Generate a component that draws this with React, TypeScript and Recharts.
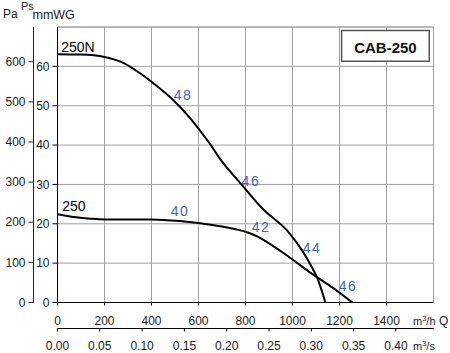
import {
  LineChart,
  Line,
  XAxis,
  YAxis,
  CartesianGrid,
  ReferenceLine,
  ReferenceArea,
  ReferenceDot,
} from "recharts";

// fan curves, Q in m3/h, Ps in mmWG
const curve250N = [
  { q: 0, ps: 63.1 },
  { q: 100, ps: 63.0 },
  { q: 200, ps: 62.4 },
  { q: 280, ps: 60.9 },
  { q: 350, ps: 58.3 },
  { q: 410, ps: 55.6 },
  { q: 500, ps: 51.0 },
  { q: 600, ps: 44.2 },
  { q: 650, ps: 40.2 },
  { q: 690, ps: 36.6 },
  { q: 780, ps: 30.2 },
  { q: 870, ps: 24.0 },
  { q: 990, ps: 17.4 },
  { q: 1040, ps: 13.3 },
  { q: 1075, ps: 9.8 },
  { q: 1105, ps: 6.3 },
  { q: 1140, ps: 0 },
];

const curve250 = [
  { q: 0, ps: 22.4 },
  { q: 60, ps: 21.8 },
  { q: 140, ps: 21.3 },
  { q: 200, ps: 21.1 },
  { q: 400, ps: 21.1 },
  { q: 520, ps: 20.7 },
  { q: 600, ps: 20.2 },
  { q: 700, ps: 19.3 },
  { q: 760, ps: 18.6 },
  { q: 810, ps: 17.8 },
  { q: 850, ps: 16.8 },
  { q: 890, ps: 15.4 },
  { q: 975, ps: 12.0 },
  { q: 1080, ps: 7.4 },
  { q: 1175, ps: 3.6 },
  { q: 1255, ps: 0 },
];

// noise levels written along the curves
const noiseLabels = [
  { text: "48", q: 534, ps: 52.6 },
  { text: "46", q: 823, ps: 30.9 },
  { text: "40", q: 521, ps: 23.2 },
  { text: "42", q: 866, ps: 19.1 },
  { text: "44", q: 1083, ps: 13.8 },
  { text: "46", q: 1236, ps: 4.3 },
];

const curveNames = [
  { text: "250N", q: 87, ps: 65.0 },
  { text: "250", q: 70, ps: 24.6 },
];

const qTicks = [0, 200, 400, 600, 800, 1000, 1200, 1400];
const qsTicks = [0, 0.05, 0.1, 0.15, 0.2, 0.25, 0.3, 0.35, 0.4]; // m3/s
const mmTicks = [0, 10, 20, 30, 40, 50, 60];
const paTicks = [0, 100, 200, 300, 400, 500, 600];

const Q_MAX = 1600;
const MM_MAX = 70;
const MM_TO_PA = 9.80665;
const H_PER_S = 3600;

const BLUE = "#3d62c6";
const GRID = "#a0a0a0";
const FONT = "'Liberation Sans', Arial, sans-serif";
const tickStyle = { fill: "#1a1a1a", fontSize: 12 };

export default function App() {
  return (
    <div style={{ position: "absolute", left: 0, top: 0 }}>
      <LineChart
        width={450}
        height={353}
        data={curve250N}
        margin={{ top: 27, right: 16.5, left: 0, bottom: 0 }}
        style={{ fontFamily: FONT }}
      >
        <CartesianGrid xAxisId="h" yAxisId="mm" stroke={GRID} strokeWidth={1} />
        <XAxis
          xAxisId="h"
          dataKey="q"
          type="number"
          domain={[0, Q_MAX]}
          ticks={qTicks}
          allowDataOverflow
          height={26}
          tickSize={3}
          tickMargin={11}
          stroke="#000"
          tick={tickStyle}
          label={(p: any) => {
            const vb = p.viewBox;
            return (
              <text x={vb.x + vb.width - 20.5} y={vb.y + 22.5} fontSize={11} fill="#1a1a1a">
                m<tspan dy={-4} fontSize={7.5}>3</tspan>
                <tspan dy={4}>/h</tspan>
                <tspan dx={3.5} fontSize={12}>Q</tspan>
              </text>
            );
          }}
        />
        {/* m3/s scale shares the m3/h domain, labels converted */}
        <XAxis
          xAxisId="s"
          dataKey="q"
          type="number"
          domain={[0, Q_MAX]}
          ticks={qsTicks.map((v) => v * H_PER_S)}
          interval={0}
          allowDataOverflow
          height={24.5}
          tickSize={3}
          tickMargin={9.5}
          stroke="#000"
          tick={tickStyle}
          tickFormatter={(v: number) => (v / H_PER_S).toFixed(2)}
          label={(p: any) => {
            const vb = p.viewBox;
            return (
              <g>
                <line x1={vb.x} x2={vb.x + vb.width} y1={vb.y} y2={vb.y} stroke="#000" />
                <text x={vb.x + vb.width - 20.5} y={vb.y + 21} fontSize={11} fill="#1a1a1a">
                  m<tspan dy={-4} fontSize={7.5}>3</tspan>
                  <tspan dy={4}>/s</tspan>
                </text>
              </g>
            );
          }}
        />
        <YAxis
          yAxisId="mm"
          type="number"
          domain={[0, MM_MAX]}
          ticks={mmTicks}
          allowDataOverflow
          width={24}
          tickSize={5}
          tickMargin={3}
          stroke="#000"
          tick={tickStyle}
          label={(p: any) => {
            const vb = p.viewBox;
            return (
              <text x={vb.x - 1} y={vb.y - 8} fontSize={12.5} fill="#1a1a1a">
                mmWG
              </text>
            );
          }}
        />
        <YAxis
          yAxisId="pa"
          type="number"
          domain={[0, MM_MAX * MM_TO_PA]}
          ticks={paTicks}
          allowDataOverflow
          width={33.5}
          tickSize={5}
          tickMargin={3}
          stroke="#222"
          tick={tickStyle}
          label={(p: any) => {
            const vb = p.viewBox;
            return (
              <g>
                <text x={vb.x + 3} y={vb.y - 9} fontSize={12} fill="#1a1a1a">
                  Pa
                </text>
                <text x={vb.x + 21} y={vb.y - 17.5} fontSize={11} fill="#1a1a1a">
                  Ps
                </text>
              </g>
            );
          }}
        />
        <ReferenceLine xAxisId="h" yAxisId="mm" y={MM_MAX} stroke={GRID} />
        <ReferenceLine xAxisId="h" yAxisId="mm" x={Q_MAX} stroke={GRID} />
        <ReferenceArea
          xAxisId="h"
          yAxisId="mm"
          x1={1209}
          x2={1582}
          y1={61.3}
          y2={69.1}
          fill="#fff"
          fillOpacity={1}
          stroke="#555"
          strokeWidth={1.5}
          label={{
            value: "CAB-250",
            position: "center",
            fill: "#111",
            fontSize: 15,
            fontWeight: "bold",
            dy: 2,
          }}
        />
        <Line
          xAxisId="h"
          yAxisId="mm"
          data={curve250N}
          dataKey="ps"
          type="monotone"
          stroke="#000"
          strokeWidth={2}
          dot={false}
          isAnimationActive={false}
        />
        <Line
          xAxisId="h"
          yAxisId="mm"
          data={curve250}
          dataKey="ps"
          type="monotone"
          stroke="#000"
          strokeWidth={2}
          dot={false}
          isAnimationActive={false}
        />
        {noiseLabels.map((l, i) => (
          <ReferenceDot
            key={"n" + i}
            xAxisId="h"
            yAxisId="mm"
            x={l.q}
            y={l.ps}
            r={0}
            stroke="none"
            label={{
              value: l.text,
              position: "center",
              fill: BLUE,
              fontSize: 14,
              letterSpacing: 1.5,
            }}
          />
        ))}
        {curveNames.map((l, i) => (
          <ReferenceDot
            key={"c" + i}
            xAxisId="h"
            yAxisId="mm"
            x={l.q}
            y={l.ps}
            r={0}
            stroke="none"
            label={{ value: l.text, position: "center", fill: "#000", fontSize: 14 }}
          />
        ))}
      </LineChart>
    </div>
  );
}
